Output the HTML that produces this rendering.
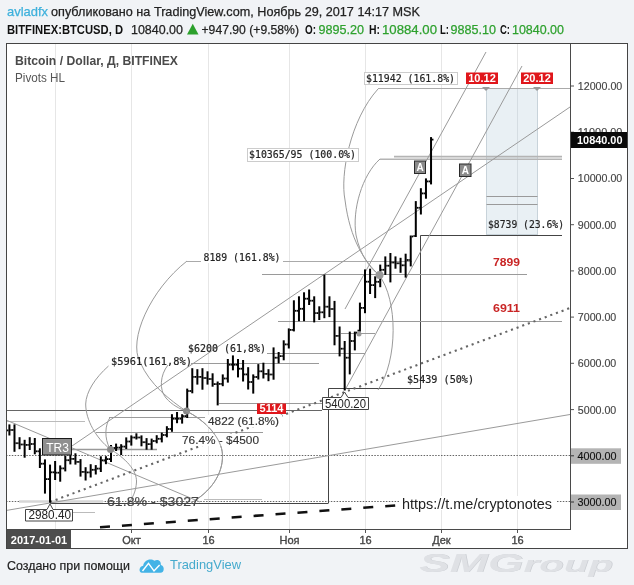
<!DOCTYPE html>
<html><head><meta charset="utf-8"><title>BTCUSD</title>
<style>html,body{margin:0;padding:0;background:#f1f3f6;} svg{display:block;}</style></head>
<body>
<svg width="634" height="585" viewBox="0 0 634 585">
<rect width="634" height="585" fill="#f1f3f6"/>
<rect x="6" y="43" width="621" height="505" fill="#fff"/>
<line x1="55.5" y1="44" x2="55.5" y2="529" stroke="#e6e6e6" stroke-width="1"/>
<line x1="131.5" y1="44" x2="131.5" y2="529" stroke="#e6e6e6" stroke-width="1"/>
<line x1="208.5" y1="44" x2="208.5" y2="529" stroke="#e6e6e6" stroke-width="1"/>
<line x1="289.5" y1="44" x2="289.5" y2="529" stroke="#e6e6e6" stroke-width="1"/>
<line x1="365.5" y1="44" x2="365.5" y2="529" stroke="#e6e6e6" stroke-width="1"/>
<line x1="441.5" y1="44" x2="441.5" y2="529" stroke="#e6e6e6" stroke-width="1"/>
<line x1="517.5" y1="44" x2="517.5" y2="529" stroke="#e6e6e6" stroke-width="1"/>
<rect x="486.5" y="88.5" width="51" height="146" fill="#e9f0f4" stroke="#c8d3da" stroke-width="1"/>
<line x1="517.5" y1="89" x2="517.5" y2="234" stroke="#d5dde2"/>
<line x1="486.5" y1="196.5" x2="537.5" y2="196.5" stroke="#9a9a9a"/>
<line x1="486.5" y1="204.5" x2="537.5" y2="204.5" stroke="#9a9a9a"/>
<line x1="6" y1="455.5" x2="570" y2="455.5" stroke="#666" stroke-width="1" stroke-dasharray="1.5,1.4"/>
<line x1="6" y1="501.5" x2="570" y2="501.5" stroke="#666" stroke-width="1" stroke-dasharray="1.5,1.4"/>
<line x1="378" y1="88.5" x2="570" y2="88.5" stroke="#aaa" stroke-width="1.2"/>
<line x1="380" y1="159.2" x2="562" y2="159.2" stroke="#b4b4b4" stroke-width="1.6"/>
<line x1="394" y1="156.6" x2="562" y2="156.6" stroke="#b4b4b4" stroke-width="1.6"/>
<polyline points="328.5,503.5 328.5,388.5 420.5,388.5 420.5,235.5 562,235.5" fill="none" stroke="#444" stroke-width="1"/>
<line x1="187" y1="261.5" x2="412" y2="261.5" stroke="#aaa" stroke-width="1"/>
<line x1="262" y1="274.5" x2="527" y2="274.5" stroke="#9a9a9a" stroke-width="1"/>
<line x1="278" y1="321.5" x2="562" y2="321.5" stroke="#9a9a9a" stroke-width="1"/>
<line x1="191" y1="363.5" x2="319" y2="363.5" stroke="#9a9a9a" stroke-width="1"/>
<line x1="267" y1="353.5" x2="365" y2="353.5" stroke="#9a9a9a" stroke-width="1"/>
<line x1="341" y1="333.5" x2="375" y2="333.5" stroke="#9a9a9a" stroke-width="1"/>
<line x1="6" y1="410.5" x2="322" y2="410.5" stroke="#666" stroke-width="1"/>
<line x1="109" y1="417.5" x2="205" y2="417.5" stroke="#9a9a9a" stroke-width="1"/>
<line x1="6" y1="421.5" x2="85" y2="421.5" stroke="#bbb" stroke-width="1"/>
<line x1="96" y1="432.5" x2="263" y2="432.5" stroke="#9a9a9a" stroke-width="1"/>
<line x1="72" y1="449.5" x2="157" y2="449.5" stroke="#999" stroke-width="1.5"/>
<line x1="219" y1="403.5" x2="322" y2="403.5" stroke="#9a9a9a" stroke-width="1"/>
<line x1="204" y1="499.5" x2="262" y2="499.5" stroke="#bbb" stroke-width="1"/>
<line x1="50" y1="503.5" x2="328" y2="503.5" stroke="#444" stroke-width="1"/>
<line x1="19" y1="501.5" x2="103" y2="501.5" stroke="#d6d6d6" stroke-width="2.5"/>
<line x1="50" y1="512.5" x2="95" y2="512.5" stroke="#bbb" stroke-width="1"/>
<line x1="72" y1="446" x2="570" y2="107" stroke="#9a9a9a" stroke-width="1"/>
<line x1="345" y1="390" x2="522" y2="66" stroke="#9a9a9a" stroke-width="1"/>
<line x1="345" y1="309" x2="486" y2="52" stroke="#9a9a9a" stroke-width="1"/>
<line x1="6" y1="510.5" x2="570" y2="414.5" stroke="#9a9a9a" stroke-width="1"/>
<line x1="6" y1="420" x2="200" y2="502" stroke="#9a9a9a" stroke-width="1"/>
<line x1="50" y1="502" x2="570" y2="308" stroke="#666" stroke-width="2.1" stroke-dasharray="2.1,3.9"/>
<line x1="100" y1="527.3" x2="397" y2="505.3" stroke="#111" stroke-width="2.6" stroke-dasharray="10,12"/>
<path d="M378,89 C350,120 340,175 345,200 C350,240 365,262 379,275" fill="none" stroke="#9a9a9a" stroke-width="1"/>
<path d="M380,159 C362,175 352,210 356,235 C360,255 370,268 379,275" fill="none" stroke="#9a9a9a" stroke-width="1"/>
<path d="M379,275 C398,300 398,360 378,390" fill="none" stroke="#9a9a9a" stroke-width="1"/>
<path d="M187,261 C150,290 128,340 140,362 C150,385 170,400 186,411" fill="none" stroke="#9a9a9a" stroke-width="1"/>
<path d="M168,365 C160,375 159,390 166,398 C172,405 180,409 186,411" fill="none" stroke="#9a9a9a" stroke-width="1"/>
<path d="M108.5,366 C95,378 86,392 85.7,404 C85.7,420 96,438 110,449" fill="none" stroke="#9a9a9a" stroke-width="1"/>
<path d="M110,417.5 C105,425 104,438 110,449" fill="none" stroke="#9a9a9a" stroke-width="1"/>
<path d="M110,449 C125,458 137,470 136.5,482 C136,492 132,499 128,504" fill="none" stroke="#9a9a9a" stroke-width="1"/>
<path d="M186,411 C205,420 222,438 222.5,455 C223,475 210,492 191,503" fill="none" stroke="#9a9a9a" stroke-width="1"/>
<g fill="#000"><rect x="8.40" y="424.4" width="2" height="11.1"/>
<rect x="7.00" y="429.5" width="1.4" height="1.8"/>
<rect x="10.40" y="429.1" width="1.4" height="1.8"/>
<rect x="13.48" y="424.4" width="2" height="27.4"/>
<rect x="12.08" y="429.1" width="1.4" height="1.8"/>
<rect x="15.48" y="442.3" width="1.4" height="1.8"/>
<rect x="18.56" y="437.2" width="2" height="12.0"/>
<rect x="17.16" y="442.3" width="1.4" height="1.8"/>
<rect x="20.56" y="443.6" width="1.4" height="1.8"/>
<rect x="23.64" y="439.8" width="2" height="17.9"/>
<rect x="22.24" y="443.6" width="1.4" height="1.8"/>
<rect x="25.64" y="444.0" width="1.4" height="1.8"/>
<rect x="28.72" y="437.2" width="2" height="12.8"/>
<rect x="27.32" y="444.0" width="1.4" height="1.8"/>
<rect x="30.72" y="443.1" width="1.4" height="1.8"/>
<rect x="33.80" y="438.0" width="2" height="16.3"/>
<rect x="32.40" y="443.1" width="1.4" height="1.8"/>
<rect x="35.80" y="450.4" width="1.4" height="1.8"/>
<rect x="38.88" y="448.3" width="2" height="19.7"/>
<rect x="37.48" y="450.4" width="1.4" height="1.8"/>
<rect x="40.88" y="462.8" width="1.4" height="1.8"/>
<rect x="43.96" y="459.4" width="2" height="34.2"/>
<rect x="42.56" y="462.8" width="1.4" height="1.8"/>
<rect x="45.96" y="478.2" width="1.4" height="1.8"/>
<rect x="49.04" y="464.6" width="2" height="38.1"/>
<rect x="47.64" y="478.2" width="1.4" height="1.8"/>
<rect x="51.04" y="471.4" width="1.4" height="1.8"/>
<rect x="54.12" y="461.0" width="2" height="19.0"/>
<rect x="52.72" y="471.4" width="1.4" height="1.8"/>
<rect x="56.12" y="471.8" width="1.4" height="1.8"/>
<rect x="59.20" y="465.4" width="2" height="16.3"/>
<rect x="57.80" y="471.8" width="1.4" height="1.8"/>
<rect x="61.20" y="467.5" width="1.4" height="1.8"/>
<rect x="64.28" y="456.0" width="2" height="15.4"/>
<rect x="62.88" y="467.5" width="1.4" height="1.8"/>
<rect x="66.28" y="459.3" width="1.4" height="1.8"/>
<rect x="69.36" y="451.8" width="2" height="12.6"/>
<rect x="67.96" y="459.3" width="1.4" height="1.8"/>
<rect x="71.36" y="458.0" width="1.4" height="1.8"/>
<rect x="74.44" y="453.3" width="2" height="11.3"/>
<rect x="73.04" y="458.0" width="1.4" height="1.8"/>
<rect x="76.44" y="461.0" width="1.4" height="1.8"/>
<rect x="79.52" y="459.1" width="2" height="17.5"/>
<rect x="78.12" y="461.0" width="1.4" height="1.8"/>
<rect x="81.52" y="471.0" width="1.4" height="1.8"/>
<rect x="84.60" y="467.2" width="2" height="13.3"/>
<rect x="83.20" y="471.0" width="1.4" height="1.8"/>
<rect x="86.60" y="471.5" width="1.4" height="1.8"/>
<rect x="89.68" y="464.2" width="2" height="13.3"/>
<rect x="88.28" y="471.5" width="1.4" height="1.8"/>
<rect x="91.68" y="468.9" width="1.4" height="1.8"/>
<rect x="94.76" y="465.1" width="2" height="9.4"/>
<rect x="93.36" y="468.9" width="1.4" height="1.8"/>
<rect x="96.76" y="467.7" width="1.4" height="1.8"/>
<rect x="99.84" y="456.3" width="2" height="15.7"/>
<rect x="98.44" y="467.7" width="1.4" height="1.8"/>
<rect x="101.84" y="459.4" width="1.4" height="1.8"/>
<rect x="104.92" y="456.2" width="2" height="8.0"/>
<rect x="103.52" y="459.4" width="1.4" height="1.8"/>
<rect x="106.92" y="458.2" width="1.4" height="1.8"/>
<rect x="110.00" y="445.0" width="2" height="17.0"/>
<rect x="108.60" y="458.2" width="1.4" height="1.8"/>
<rect x="112.00" y="447.1" width="1.4" height="1.8"/>
<rect x="115.08" y="443.6" width="2" height="7.4"/>
<rect x="113.68" y="447.1" width="1.4" height="1.8"/>
<rect x="117.08" y="446.7" width="1.4" height="1.8"/>
<rect x="120.16" y="444.2" width="2" height="10.8"/>
<rect x="118.76" y="446.7" width="1.4" height="1.8"/>
<rect x="122.16" y="445.7" width="1.4" height="1.8"/>
<rect x="125.24" y="437.4" width="2" height="11.6"/>
<rect x="123.84" y="445.7" width="1.4" height="1.8"/>
<rect x="127.24" y="440.6" width="1.4" height="1.8"/>
<rect x="130.32" y="435.4" width="2" height="10.2"/>
<rect x="128.92" y="440.6" width="1.4" height="1.8"/>
<rect x="132.32" y="436.6" width="1.4" height="1.8"/>
<rect x="135.40" y="433.3" width="2" height="6.2"/>
<rect x="134.00" y="436.6" width="1.4" height="1.8"/>
<rect x="137.40" y="436.6" width="1.4" height="1.8"/>
<rect x="140.48" y="435.4" width="2" height="10.9"/>
<rect x="139.08" y="436.6" width="1.4" height="1.8"/>
<rect x="142.48" y="441.3" width="1.4" height="1.8"/>
<rect x="145.56" y="438.1" width="2" height="11.6"/>
<rect x="144.16" y="441.3" width="1.4" height="1.8"/>
<rect x="147.56" y="443.2" width="1.4" height="1.8"/>
<rect x="150.64" y="438.6" width="2" height="11.1"/>
<rect x="149.24" y="443.2" width="1.4" height="1.8"/>
<rect x="152.64" y="440.1" width="1.4" height="1.8"/>
<rect x="155.72" y="435.2" width="2" height="8.1"/>
<rect x="154.32" y="440.1" width="1.4" height="1.8"/>
<rect x="157.72" y="437.9" width="1.4" height="1.8"/>
<rect x="160.80" y="432.6" width="2" height="9.8"/>
<rect x="159.40" y="437.9" width="1.4" height="1.8"/>
<rect x="162.80" y="434.1" width="1.4" height="1.8"/>
<rect x="165.88" y="426.2" width="2" height="11.1"/>
<rect x="164.48" y="434.1" width="1.4" height="1.8"/>
<rect x="167.88" y="428.1" width="1.4" height="1.8"/>
<rect x="170.96" y="414.2" width="2" height="17.6"/>
<rect x="169.56" y="428.1" width="1.4" height="1.8"/>
<rect x="172.96" y="417.8" width="1.4" height="1.8"/>
<rect x="176.04" y="412.0" width="2" height="11.2"/>
<rect x="174.64" y="417.8" width="1.4" height="1.8"/>
<rect x="178.04" y="417.8" width="1.4" height="1.8"/>
<rect x="181.12" y="414.2" width="2" height="9.4"/>
<rect x="179.72" y="417.8" width="1.4" height="1.8"/>
<rect x="183.12" y="415.2" width="1.4" height="1.8"/>
<rect x="186.20" y="388.6" width="2" height="29.4"/>
<rect x="184.80" y="415.2" width="1.4" height="1.8"/>
<rect x="188.20" y="390.1" width="1.4" height="1.8"/>
<rect x="191.28" y="368.2" width="2" height="25.1"/>
<rect x="189.88" y="390.1" width="1.4" height="1.8"/>
<rect x="193.28" y="376.0" width="1.4" height="1.8"/>
<rect x="196.36" y="369.2" width="2" height="15.4"/>
<rect x="194.96" y="376.0" width="1.4" height="1.8"/>
<rect x="198.36" y="376.0" width="1.4" height="1.8"/>
<rect x="201.44" y="368.2" width="2" height="21.5"/>
<rect x="200.04" y="376.0" width="1.4" height="1.8"/>
<rect x="203.44" y="377.1" width="1.4" height="1.8"/>
<rect x="206.52" y="371.3" width="2" height="13.3"/>
<rect x="205.12" y="377.1" width="1.4" height="1.8"/>
<rect x="208.52" y="378.1" width="1.4" height="1.8"/>
<rect x="211.60" y="373.3" width="2" height="13.4"/>
<rect x="210.20" y="378.1" width="1.4" height="1.8"/>
<rect x="213.60" y="383.2" width="1.4" height="1.8"/>
<rect x="216.68" y="381.5" width="2" height="23.9"/>
<rect x="215.28" y="383.2" width="1.4" height="1.8"/>
<rect x="218.68" y="383.0" width="1.4" height="1.8"/>
<rect x="221.76" y="374.4" width="2" height="11.8"/>
<rect x="220.36" y="383.0" width="1.4" height="1.8"/>
<rect x="223.76" y="377.6" width="1.4" height="1.8"/>
<rect x="226.84" y="359.0" width="2" height="23.6"/>
<rect x="225.44" y="377.6" width="1.4" height="1.8"/>
<rect x="228.84" y="363.8" width="1.4" height="1.8"/>
<rect x="231.92" y="355.4" width="2" height="14.9"/>
<rect x="230.52" y="363.8" width="1.4" height="1.8"/>
<rect x="233.92" y="363.8" width="1.4" height="1.8"/>
<rect x="237.00" y="359.0" width="2" height="18.4"/>
<rect x="235.60" y="363.8" width="1.4" height="1.8"/>
<rect x="239.00" y="367.8" width="1.4" height="1.8"/>
<rect x="242.08" y="360.0" width="2" height="21.5"/>
<rect x="240.68" y="367.8" width="1.4" height="1.8"/>
<rect x="244.08" y="373.5" width="1.4" height="1.8"/>
<rect x="247.16" y="367.2" width="2" height="22.3"/>
<rect x="245.76" y="373.5" width="1.4" height="1.8"/>
<rect x="249.16" y="381.1" width="1.4" height="1.8"/>
<rect x="252.24" y="374.4" width="2" height="19.2"/>
<rect x="250.84" y="381.1" width="1.4" height="1.8"/>
<rect x="254.24" y="376.1" width="1.4" height="1.8"/>
<rect x="257.32" y="364.1" width="2" height="15.4"/>
<rect x="255.92" y="376.1" width="1.4" height="1.8"/>
<rect x="259.32" y="370.4" width="1.4" height="1.8"/>
<rect x="262.40" y="362.7" width="2" height="15.8"/>
<rect x="261.00" y="370.4" width="1.4" height="1.8"/>
<rect x="264.40" y="373.0" width="1.4" height="1.8"/>
<rect x="267.48" y="369.2" width="2" height="12.0"/>
<rect x="266.08" y="373.0" width="1.4" height="1.8"/>
<rect x="269.48" y="373.6" width="1.4" height="1.8"/>
<rect x="272.56" y="347.4" width="2" height="32.3"/>
<rect x="271.16" y="373.6" width="1.4" height="1.8"/>
<rect x="274.56" y="356.8" width="1.4" height="1.8"/>
<rect x="277.64" y="352.0" width="2" height="11.3"/>
<rect x="276.24" y="356.8" width="1.4" height="1.8"/>
<rect x="279.64" y="355.2" width="1.4" height="1.8"/>
<rect x="282.72" y="340.3" width="2" height="20.0"/>
<rect x="281.32" y="355.2" width="1.4" height="1.8"/>
<rect x="284.72" y="343.5" width="1.4" height="1.8"/>
<rect x="287.80" y="328.4" width="2" height="20.1"/>
<rect x="286.40" y="343.5" width="1.4" height="1.8"/>
<rect x="289.80" y="329.0" width="1.4" height="1.8"/>
<rect x="292.88" y="300.3" width="2" height="31.1"/>
<rect x="291.48" y="329.0" width="1.4" height="1.8"/>
<rect x="294.88" y="309.9" width="1.4" height="1.8"/>
<rect x="297.96" y="296.3" width="2" height="24.9"/>
<rect x="296.56" y="309.9" width="1.4" height="1.8"/>
<rect x="299.96" y="307.9" width="1.4" height="1.8"/>
<rect x="303.04" y="292.3" width="2" height="28.9"/>
<rect x="301.64" y="307.9" width="1.4" height="1.8"/>
<rect x="305.04" y="297.8" width="1.4" height="1.8"/>
<rect x="308.12" y="289.5" width="2" height="15.5"/>
<rect x="306.72" y="297.8" width="1.4" height="1.8"/>
<rect x="310.12" y="299.8" width="1.4" height="1.8"/>
<rect x="313.20" y="296.3" width="2" height="26.1"/>
<rect x="311.80" y="299.8" width="1.4" height="1.8"/>
<rect x="315.20" y="312.2" width="1.4" height="1.8"/>
<rect x="318.28" y="306.3" width="2" height="13.7"/>
<rect x="316.88" y="312.2" width="1.4" height="1.8"/>
<rect x="320.28" y="311.4" width="1.4" height="1.8"/>
<rect x="323.36" y="274.6" width="2" height="43.6"/>
<rect x="321.96" y="311.4" width="1.4" height="1.8"/>
<rect x="325.36" y="305.8" width="1.4" height="1.8"/>
<rect x="328.44" y="296.3" width="2" height="20.8"/>
<rect x="327.04" y="305.8" width="1.4" height="1.8"/>
<rect x="330.44" y="308.1" width="1.4" height="1.8"/>
<rect x="333.52" y="300.9" width="2" height="44.4"/>
<rect x="332.12" y="308.1" width="1.4" height="1.8"/>
<rect x="335.52" y="335.0" width="1.4" height="1.8"/>
<rect x="338.60" y="326.5" width="2" height="29.9"/>
<rect x="337.20" y="335.0" width="1.4" height="1.8"/>
<rect x="340.60" y="347.8" width="1.4" height="1.8"/>
<rect x="343.68" y="341.0" width="2" height="49.5"/>
<rect x="342.28" y="347.8" width="1.4" height="1.8"/>
<rect x="345.68" y="356.8" width="1.4" height="1.8"/>
<rect x="348.76" y="331.6" width="2" height="42.8"/>
<rect x="347.36" y="356.8" width="1.4" height="1.8"/>
<rect x="350.76" y="340.1" width="1.4" height="1.8"/>
<rect x="353.84" y="331.6" width="2" height="18.8"/>
<rect x="352.44" y="340.1" width="1.4" height="1.8"/>
<rect x="355.84" y="331.7" width="1.4" height="1.8"/>
<rect x="358.92" y="302.6" width="2" height="29.0"/>
<rect x="357.52" y="329.7" width="1.4" height="1.8"/>
<rect x="360.92" y="307.0" width="1.4" height="1.8"/>
<rect x="364.00" y="269.4" width="2" height="43.8"/>
<rect x="362.60" y="307.0" width="1.4" height="1.8"/>
<rect x="366.00" y="280.8" width="1.4" height="1.8"/>
<rect x="369.08" y="268.7" width="2" height="25.3"/>
<rect x="367.68" y="280.8" width="1.4" height="1.8"/>
<rect x="371.08" y="284.2" width="1.4" height="1.8"/>
<rect x="374.16" y="276.3" width="2" height="21.8"/>
<rect x="372.76" y="284.2" width="1.4" height="1.8"/>
<rect x="376.16" y="280.9" width="1.4" height="1.8"/>
<rect x="379.24" y="264.6" width="2" height="22.6"/>
<rect x="377.84" y="280.9" width="1.4" height="1.8"/>
<rect x="381.24" y="268.9" width="1.4" height="1.8"/>
<rect x="384.32" y="256.4" width="2" height="18.5"/>
<rect x="382.92" y="268.9" width="1.4" height="1.8"/>
<rect x="386.32" y="264.8" width="1.4" height="1.8"/>
<rect x="389.40" y="253.0" width="2" height="29.4"/>
<rect x="388.00" y="264.8" width="1.4" height="1.8"/>
<rect x="391.40" y="261.6" width="1.4" height="1.8"/>
<rect x="394.48" y="256.4" width="2" height="12.3"/>
<rect x="393.08" y="261.6" width="1.4" height="1.8"/>
<rect x="396.48" y="262.4" width="1.4" height="1.8"/>
<rect x="399.56" y="257.8" width="2" height="15.0"/>
<rect x="398.16" y="262.4" width="1.4" height="1.8"/>
<rect x="401.56" y="264.4" width="1.4" height="1.8"/>
<rect x="404.64" y="253.7" width="2" height="23.9"/>
<rect x="403.24" y="264.4" width="1.4" height="1.8"/>
<rect x="406.64" y="259.1" width="1.4" height="1.8"/>
<rect x="409.72" y="235.5" width="2" height="30.9"/>
<rect x="408.32" y="259.1" width="1.4" height="1.8"/>
<rect x="411.72" y="235.6" width="1.4" height="1.8"/>
<rect x="414.80" y="201.1" width="2" height="35.9"/>
<rect x="413.40" y="235.1" width="1.4" height="1.8"/>
<rect x="416.80" y="206.9" width="1.4" height="1.8"/>
<rect x="419.88" y="188.2" width="2" height="26.3"/>
<rect x="418.48" y="206.9" width="1.4" height="1.8"/>
<rect x="421.88" y="192.5" width="1.4" height="1.8"/>
<rect x="424.96" y="178.4" width="2" height="20.3"/>
<rect x="423.56" y="192.5" width="1.4" height="1.8"/>
<rect x="426.96" y="180.5" width="1.4" height="1.8"/>
<rect x="430.04" y="137.1" width="2" height="47.3"/>
<rect x="428.64" y="180.5" width="1.4" height="1.8"/>
<rect x="432.04" y="138.7" width="1.4" height="1.8"/></g>
<circle cx="110.5" cy="449.5" r="3.5" fill="#888"/>
<circle cx="186.5" cy="411" r="3.5" fill="#888"/>
<circle cx="379.5" cy="275" r="4" fill="#999"/>
<circle cx="359" cy="334" r="2.5" fill="#999"/>
<rect x="364.5" y="72.5" width="93" height="12" fill="#fff" stroke="#ccc"/>
<text x="366" y="81.5" font-size="10.6" fill="#222" stroke="#222" stroke-width="0.2" font-family="DejaVu Sans Mono, Liberation Mono, monospace" textLength="89" lengthAdjust="spacingAndGlyphs">$11942 (161.8%)</text>
<rect x="247.5" y="148.5" width="111" height="13" fill="#fff" stroke="#ccc"/>
<text x="249" y="158.0" font-size="10.6" fill="#222" stroke="#222" stroke-width="0.2" font-family="DejaVu Sans Mono, Liberation Mono, monospace" textLength="107" lengthAdjust="spacingAndGlyphs">$10365/95 (100.0%)</text>
<text x="488" y="228.3" font-size="10.6" fill="#222" font-family="DejaVu Sans Mono, Liberation Mono, monospace" textLength="76" lengthAdjust="spacingAndGlyphs" stroke="#222" stroke-width="0.2">$8739 (23.6%)</text>
<rect x="201" y="251" width="82" height="12" fill="#fff"/>
<text x="203.5" y="261" font-size="10.6" fill="#222" font-family="DejaVu Sans Mono, Liberation Mono, monospace" textLength="77.0" lengthAdjust="spacingAndGlyphs" stroke="#222" stroke-width="0.2">8189 (161.8%)</text>
<text x="188" y="351.5" font-size="10.6" fill="#222" font-family="DejaVu Sans Mono, Liberation Mono, monospace" textLength="78" lengthAdjust="spacingAndGlyphs" stroke="#222" stroke-width="0.2">$6200 (61,8%)</text>
<text x="111" y="365" font-size="10.6" fill="#222" font-family="DejaVu Sans Mono, Liberation Mono, monospace" textLength="81" lengthAdjust="spacingAndGlyphs" stroke="#222" stroke-width="0.2">$5961(161,8%)</text>
<text x="407" y="383" font-size="10.6" fill="#222" font-family="DejaVu Sans Mono, Liberation Mono, monospace" textLength="67" lengthAdjust="spacingAndGlyphs" stroke="#222" stroke-width="0.2">$5439 (50%)</text>
<rect x="206" y="415" width="76" height="12" fill="#fff"/>
<text x="208" y="424.5" font-size="11" fill="#333" font-family="Liberation Sans, Arial, sans-serif" textLength="71" lengthAdjust="spacingAndGlyphs" stroke="#333" stroke-width="0.15">4822 (61.8%)</text>
<rect x="181" y="434" width="80" height="12" fill="#fff"/>
<text x="182" y="443.5" font-size="11.5" fill="#333" font-family="Liberation Sans, Arial, sans-serif" textLength="77" lengthAdjust="spacingAndGlyphs" stroke="#333" stroke-width="0.15">76.4% - $4500</text>
<path d="M186,411 C205,420 222,438 222.5,455 C223,475 210,492 191,503" fill="none" stroke="#9a9a9a" stroke-width="1"/>
<text x="107" y="506.2" font-size="13.5" fill="#444" font-family="Liberation Sans, Arial, sans-serif" textLength="92" lengthAdjust="spacingAndGlyphs" stroke="#444" stroke-width="0.15">61.8% - $3027</text>
<rect x="399" y="496" width="157" height="14" fill="#fff"/>
<text x="402" y="508.5" font-size="14.5" fill="#222" font-family="Liberation Sans, Arial, sans-serif" textLength="150" lengthAdjust="spacingAndGlyphs">https://t.me/cryptonotes</text>
<rect x="466" y="72.5" width="32" height="11.5" fill="#e0161b"/>
<text x="482.0" y="81.8" font-size="11" font-weight="bold" fill="#fff" text-anchor="middle" font-family="Liberation Sans, Arial, sans-serif">10.12</text>
<rect x="521" y="72.5" width="32" height="11.5" fill="#e0161b"/>
<text x="537.0" y="81.8" font-size="11" font-weight="bold" fill="#fff" text-anchor="middle" font-family="Liberation Sans, Arial, sans-serif">20.12</text>
<rect x="257" y="403.5" width="29" height="10.5" fill="#e0161b"/>
<text x="271.5" y="411.8" font-size="11" font-weight="bold" fill="#fff" text-anchor="middle" font-family="Liberation Sans, Arial, sans-serif">5114</text>
<text x="493" y="266" font-size="10" fill="#c92525" font-family="Liberation Sans, Arial, sans-serif" textLength="27" lengthAdjust="spacingAndGlyphs" font-weight="bold">7899</text>
<text x="493" y="312" font-size="10" fill="#c92525" font-family="Liberation Sans, Arial, sans-serif" textLength="27" lengthAdjust="spacingAndGlyphs" font-weight="bold">6911</text>
<path d="M482,87 L490,87 L486,91 Z" fill="#999"/>
<path d="M533,87 L541,87 L537,91 Z" fill="#999"/>
<rect x="414.5" y="161.0" width="11" height="12.5" fill="#8a8a8a" stroke="#2a2a2a"/>
<text x="420.0" y="170.5" font-size="10" font-weight="bold" fill="#fff" text-anchor="middle" font-family="Liberation Sans, Arial, sans-serif">A</text>
<rect x="459.5" y="164.0" width="11.5" height="12.5" fill="#8a8a8a" stroke="#2a2a2a"/>
<text x="465.25" y="173.5" font-size="10" font-weight="bold" fill="#fff" text-anchor="middle" font-family="Liberation Sans, Arial, sans-serif">A</text>
<rect x="42.5" y="438.5" width="29" height="16.5" fill="#8f8f8f" stroke="#1a1a1a"/>
<text x="57.5" y="452" font-size="12" fill="#fff" text-anchor="middle" font-family="Liberation Sans, Arial, sans-serif">TR3</text>
<path d="M25.5,509.5 L47,509.5 L50,504 L53,509.5 L72.5,509.5 L72.5,521 L25.5,521 Z" fill="#fff" stroke="#444"/>
<text x="28.5" y="519.3" font-size="12" fill="#222" font-family="Liberation Sans, Arial, sans-serif" textLength="42.5" lengthAdjust="spacingAndGlyphs">2980.40</text>
<path d="M322.5,397.5 L341,397.5 L344.5,392 L348,397.5 L368.5,397.5 L368.5,409.5 L322.5,409.5 Z" fill="#fff" stroke="#444"/>
<text x="325" y="407.5" font-size="12" fill="#222" font-family="Liberation Sans, Arial, sans-serif" textLength="41" lengthAdjust="spacingAndGlyphs">5400.20</text>
<line x1="570.5" y1="43" x2="570.5" y2="529" stroke="#4a4a4a"/>
<line x1="6" y1="529.5" x2="571" y2="529.5" stroke="#4a4a4a"/>
<rect x="6.5" y="43.5" width="621" height="505" fill="none" stroke="#444"/>
<line x1="571" y1="86.0" x2="574" y2="86.0" stroke="#555"/>
<text x="577.8" y="89.9" font-size="10.8" fill="#444" font-family="Liberation Sans, Arial, sans-serif" textLength="44.5" lengthAdjust="spacingAndGlyphs" stroke="#444" stroke-width="0.15">12000.00</text>
<line x1="571" y1="132.2" x2="574" y2="132.2" stroke="#555"/>
<text x="577.8" y="136.1" font-size="10.8" fill="#444" font-family="Liberation Sans, Arial, sans-serif" textLength="44.5" lengthAdjust="spacingAndGlyphs" stroke="#444" stroke-width="0.15">11000.00</text>
<line x1="571" y1="178.5" x2="574" y2="178.5" stroke="#555"/>
<text x="577.8" y="182.4" font-size="10.8" fill="#444" font-family="Liberation Sans, Arial, sans-serif" textLength="44.5" lengthAdjust="spacingAndGlyphs" stroke="#444" stroke-width="0.15">10000.00</text>
<line x1="571" y1="224.7" x2="574" y2="224.7" stroke="#555"/>
<text x="577.8" y="228.6" font-size="10.8" fill="#444" font-family="Liberation Sans, Arial, sans-serif" textLength="38.5" lengthAdjust="spacingAndGlyphs" stroke="#444" stroke-width="0.15">9000.00</text>
<line x1="571" y1="270.9" x2="574" y2="270.9" stroke="#555"/>
<text x="577.8" y="274.8" font-size="10.8" fill="#444" font-family="Liberation Sans, Arial, sans-serif" textLength="38.5" lengthAdjust="spacingAndGlyphs" stroke="#444" stroke-width="0.15">8000.00</text>
<line x1="571" y1="317.1" x2="574" y2="317.1" stroke="#555"/>
<text x="577.8" y="321.0" font-size="10.8" fill="#444" font-family="Liberation Sans, Arial, sans-serif" textLength="38.5" lengthAdjust="spacingAndGlyphs" stroke="#444" stroke-width="0.15">7000.00</text>
<line x1="571" y1="363.3" x2="574" y2="363.3" stroke="#555"/>
<text x="577.8" y="367.2" font-size="10.8" fill="#444" font-family="Liberation Sans, Arial, sans-serif" textLength="38.5" lengthAdjust="spacingAndGlyphs" stroke="#444" stroke-width="0.15">6000.00</text>
<line x1="571" y1="409.6" x2="574" y2="409.6" stroke="#555"/>
<text x="577.8" y="413.5" font-size="10.8" fill="#444" font-family="Liberation Sans, Arial, sans-serif" textLength="38.5" lengthAdjust="spacingAndGlyphs" stroke="#444" stroke-width="0.15">5000.00</text>
<rect x="571" y="448.3" width="50" height="15.5" fill="#b4b4b4"/>
<line x1="571" y1="455.8" x2="574" y2="455.8" stroke="#333"/>
<text x="577.5" y="460.0" font-size="10.8" fill="#111" font-family="Liberation Sans, Arial, sans-serif" textLength="39.0" lengthAdjust="spacingAndGlyphs" stroke="#111" stroke-width="0.15">4000.00</text>
<rect x="571" y="494.5" width="50" height="15.5" fill="#b4b4b4"/>
<line x1="571" y1="502.0" x2="574" y2="502.0" stroke="#333"/>
<text x="577.5" y="506.2" font-size="10.8" fill="#111" font-family="Liberation Sans, Arial, sans-serif" textLength="39.0" lengthAdjust="spacingAndGlyphs" stroke="#111" stroke-width="0.15">3000.00</text>
<rect x="571" y="132" width="56" height="16" fill="#0a0a0a"/>
<text x="577" y="144.2" font-size="11" fill="#fff" font-family="Liberation Sans, Arial, sans-serif" textLength="45.5" lengthAdjust="spacingAndGlyphs" font-weight="bold">10840.00</text>
<line x1="131.5" y1="530" x2="131.5" y2="533" stroke="#555"/>
<text x="131.5" y="544" font-size="11" fill="#444" stroke="#444" stroke-width="0.35" text-anchor="middle" font-family="Liberation Sans, Arial, sans-serif">Окт</text>
<line x1="208.5" y1="530" x2="208.5" y2="533" stroke="#555"/>
<text x="208.5" y="544" font-size="11" fill="#444" stroke="#444" stroke-width="0.35" text-anchor="middle" font-family="Liberation Sans, Arial, sans-serif">16</text>
<line x1="289.5" y1="530" x2="289.5" y2="533" stroke="#555"/>
<text x="289.5" y="544" font-size="11" fill="#444" stroke="#444" stroke-width="0.35" text-anchor="middle" font-family="Liberation Sans, Arial, sans-serif">Ноя</text>
<line x1="365.5" y1="530" x2="365.5" y2="533" stroke="#555"/>
<text x="365.5" y="544" font-size="11" fill="#444" stroke="#444" stroke-width="0.35" text-anchor="middle" font-family="Liberation Sans, Arial, sans-serif">16</text>
<line x1="441.5" y1="530" x2="441.5" y2="533" stroke="#555"/>
<text x="441.5" y="544" font-size="11" fill="#444" stroke="#444" stroke-width="0.35" text-anchor="middle" font-family="Liberation Sans, Arial, sans-serif">Дек</text>
<line x1="517.5" y1="530" x2="517.5" y2="533" stroke="#555"/>
<text x="517.5" y="544" font-size="11" fill="#444" stroke="#444" stroke-width="0.35" text-anchor="middle" font-family="Liberation Sans, Arial, sans-serif">16</text>
<rect x="7" y="530" width="64" height="18" fill="#4d4d4d"/>
<text x="39" y="544" font-size="11" font-weight="bold" fill="#fff" text-anchor="middle" font-family="Liberation Sans, Arial, sans-serif">2017-01-01</text>
<text x="15" y="65" font-size="12" fill="#4a4a4a" font-family="Liberation Sans, Arial, sans-serif" textLength="163" lengthAdjust="spacingAndGlyphs" font-weight="bold">Bitcoin / Dollar, Д, BITFINEX</text>
<text x="15" y="81.5" font-size="12" fill="#555" font-family="Liberation Sans, Arial, sans-serif" textLength="50" lengthAdjust="spacingAndGlyphs">Pivots HL</text>
<text x="7" y="15.8" font-size="13" fill="#3eb1dc" font-family="Liberation Sans, Arial, sans-serif" textLength="41" lengthAdjust="spacingAndGlyphs" stroke="#3eb1dc" stroke-width="0.25">avladfx</text>
<text x="51" y="15.8" font-size="13" fill="#222" font-family="Liberation Sans, Arial, sans-serif" textLength="369" lengthAdjust="spacingAndGlyphs" stroke="#222" stroke-width="0.25">опубликовано на TradingView.com, Ноябрь 29, 2017 14:17 MSK</text>
<text x="7" y="33.5" font-size="13" fill="#111" font-family="Liberation Sans, Arial, sans-serif" textLength="116" lengthAdjust="spacingAndGlyphs" font-weight="bold">BITFINEX:BTCUSD, D</text>
<text x="131" y="33.5" font-size="13" fill="#222" font-family="Liberation Sans, Arial, sans-serif" textLength="52" lengthAdjust="spacingAndGlyphs" stroke="#222" stroke-width="0.25">10840.00</text>
<path d="M187,34.5 L198.5,34.5 L192.75,23.8 Z" fill="#2ca02c"/>
<text x="201.5" y="33.5" font-size="13" fill="#222" font-family="Liberation Sans, Arial, sans-serif" textLength="97.5" lengthAdjust="spacingAndGlyphs" stroke="#222" stroke-width="0.25">+947.90 (+9.58%)</text>
<text x="305" y="33.5" font-size="13" fill="#111" font-family="Liberation Sans, Arial, sans-serif" textLength="11" lengthAdjust="spacingAndGlyphs" font-weight="bold">O:</text>
<text x="318.4" y="33.5" font-size="13" fill="#2ea12e" font-family="Liberation Sans, Arial, sans-serif" textLength="45.60000000000002" lengthAdjust="spacingAndGlyphs" stroke="#2ea12e" stroke-width="0.25">9895.20</text>
<text x="369" y="33.5" font-size="13" fill="#111" font-family="Liberation Sans, Arial, sans-serif" textLength="11" lengthAdjust="spacingAndGlyphs" font-weight="bold">H:</text>
<text x="382" y="33.5" font-size="13" fill="#2ea12e" font-family="Liberation Sans, Arial, sans-serif" textLength="55" lengthAdjust="spacingAndGlyphs" stroke="#2ea12e" stroke-width="0.25">10884.00</text>
<text x="440" y="33.5" font-size="13" fill="#111" font-family="Liberation Sans, Arial, sans-serif" textLength="9" lengthAdjust="spacingAndGlyphs" font-weight="bold">L:</text>
<text x="450.5" y="33.5" font-size="13" fill="#2ea12e" font-family="Liberation Sans, Arial, sans-serif" textLength="45.5" lengthAdjust="spacingAndGlyphs" stroke="#2ea12e" stroke-width="0.25">9885.10</text>
<text x="500" y="33.5" font-size="13" fill="#111" font-family="Liberation Sans, Arial, sans-serif" textLength="10" lengthAdjust="spacingAndGlyphs" font-weight="bold">C:</text>
<text x="512" y="33.5" font-size="13" fill="#2ea12e" font-family="Liberation Sans, Arial, sans-serif" textLength="52" lengthAdjust="spacingAndGlyphs" stroke="#2ea12e" stroke-width="0.25">10840.00</text>
<text x="7" y="569.8" font-size="13" fill="#222" font-family="Liberation Sans, Arial, sans-serif" textLength="123" lengthAdjust="spacingAndGlyphs" stroke="#222" stroke-width="0.2">Создано при помощи</text>
<path d="M142,572.8 C138.6,572.8 138.6,566.2 143.2,565.8 C143.6,560.2 150.5,557.6 154.5,560.8 C157,558.8 161.5,560.5 160.8,565 C164.8,565.4 164.8,572.8 160.5,572.8 Z" fill="#43b3e6"/>
<polyline points="142.5,571 148.5,563.4 154,571 159.6,565" fill="none" stroke="#fff" stroke-width="1.4" stroke-linejoin="miter"/>
<text x="170" y="569" font-size="13.5" fill="#45aacd" font-family="Liberation Sans, Arial, sans-serif" textLength="71" lengthAdjust="spacingAndGlyphs">TradingView</text>
<text x="420" y="572.3" font-size="25" font-weight="bold" font-style="italic" fill="#c9ccd1" font-family="Liberation Sans, Arial, sans-serif" textLength="194" lengthAdjust="spacingAndGlyphs">SMG<tspan font-size="22">roup</tspan></text>
<text x="419.2" y="571.5" font-size="25" font-weight="bold" font-style="italic" fill="#dfe1e5" font-family="Liberation Sans, Arial, sans-serif" textLength="194" lengthAdjust="spacingAndGlyphs">SMG<tspan font-size="22">roup</tspan></text>
</svg>
</body></html>
